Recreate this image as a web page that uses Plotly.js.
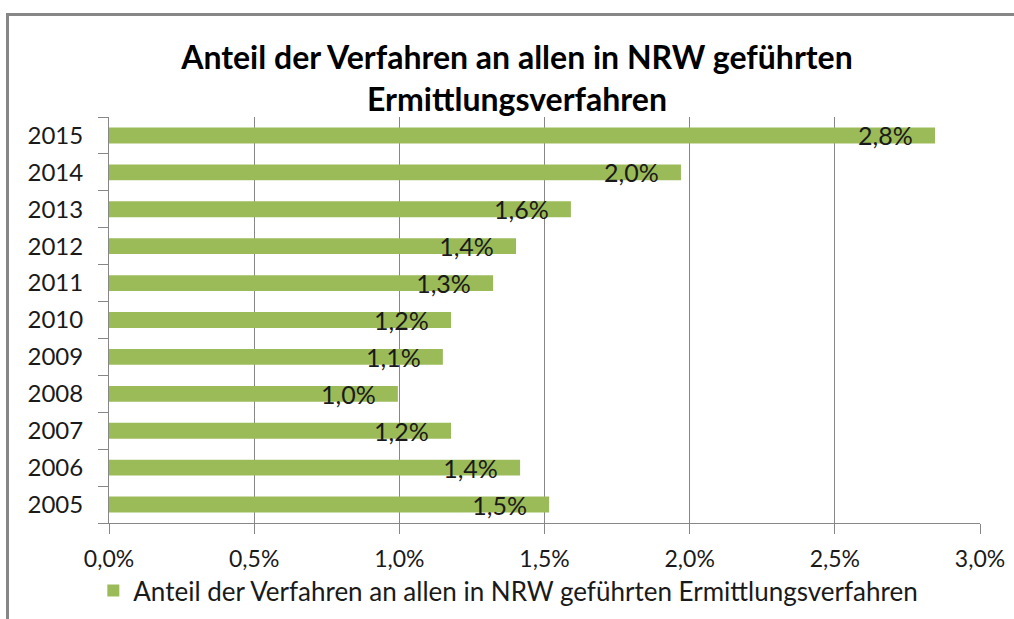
<!DOCTYPE html>
<html>
<head>
<meta charset="utf-8">
<script src="https://cdn.plot.ly/plotly-3.0.1.min.js"></script>
<style>
  body { margin: 0; background: #fff; }
  #chart { position: absolute; left: 0; top: 0; width: 1014px; height: 619px; }
  #frame { position: absolute; left: 6px; top: 13px; width: 1100px; height: 700px;
           border: 3px solid #878787; pointer-events: none; }
</style>
</head>
<body>
<div id="chart"></div>
<div id="frame"></div>
<script>
// years, bottom to top
const years = ["2005", "2006", "2007", "2008", "2009", "2010", "2011", "2012", "2013", "2014", "2015"];
// share of all investigations in NRW, in percent
const shares = [1.516, 1.416, 1.178, 0.995, 1.150, 1.178, 1.323, 1.402, 1.591, 1.970, 2.845];
const seriesName = "Anteil der Verfahren an allen in NRW geführten Ermittlungsverfahren";

const FONT = "Lato, 'Open Sans', sans-serif";
const GRID = "#878787";

// labels like "2,8%" with a little space before the bar end
const labels = shares.map(v => v.toFixed(1).replace(".", ",") + "%\u00a0\u00a0\u00a0");

const data = [
  {
    type: "bar",
    orientation: "h",
    x: shares,
    y: years,
    name: seriesName,
    marker: { color: "#9BBB59" },
    text: labels,
    textposition: "inside",
    insidetextanchor: "end",
    constraintext: "none",
    textangle: 0,
    textfont: { family: FONT, size: 25, color: "#1a1a1a" },
    hoverinfo: "none",
  },
];

const layout = {
  width: 1014,
  height: 619,
  margin: { l: 109, r: 34, t: 117, b: 96, autoexpand: false },
  paper_bgcolor: "#fff",
  plot_bgcolor: "#fff",
  separators: ",.",
  font: { family: FONT, size: 24, color: "#1a1a1a" },
  title: {
    text: "<b>Anteil der Verfahren an allen in NRW geführten<br>Ermittlungsverfahren</b>",
    font: { family: FONT, size: 32, color: "#000" },
    xref: "container",
    x: 517 / 1014,
    xanchor: "center",
    yref: "container",
    y: 1 - 69 / 619,
    yanchor: "top",
  },
  bargap: 0.57,
  xaxis: {
    range: [0, 3],
    dtick: 0.5,
    tickformat: ".1f",
    ticksuffix: "%",
    showgrid: true,
    gridcolor: GRID,
    gridwidth: 1,
    zeroline: false,
    showline: true,
    linecolor: GRID,
    ticks: "outside",
    ticklen: 10,
    tickcolor: GRID,
    ticklabelstandoff: 5,
    tickfont: { family: FONT, size: 23, color: "#1a1a1a" },
  },
  yaxis: {
    type: "category",
    showline: true,
    linecolor: GRID,
    ticks: "outside",
    tickson: "boundaries",
    ticklen: 10,
    tickcolor: GRID,
    ticklabelstandoff: 20,
    showgrid: false,
    tickfont: { family: FONT, size: 24, color: "#1a1a1a" },
  },
  showlegend: true,
  legend: {
    orientation: "h",
    xref: "paper",
    x: -0.018,
    xanchor: "left",
    yref: "container",
    y: 1 - 567 / 619,
    yanchor: "top",
    font: { family: FONT, size: 26, color: "#1a1a1a" },
    bgcolor: "rgba(0,0,0,0)",
  },
};

Plotly.newPlot("chart", data, layout, { displayModeBar: false, staticPlot: true });
</script>
</body>
</html>
